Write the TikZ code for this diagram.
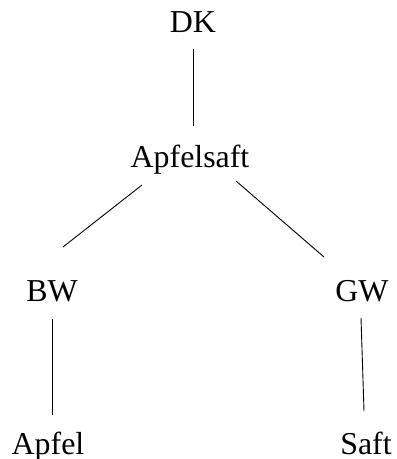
\documentclass[tikz,border=0pt]{standalone}
\usepackage{fontspec}
\setmainfont{Liberation Serif}
\usetikzlibrary{calc}
\begin{document}
\begin{tikzpicture}[x=1bp,y=1bp,
  lbl/.style={inner sep=0pt,anchor=base,font=\fontsize{32}{38}\selectfont},
  edge/.style={line width=0.9bp,black}]
\useasboundingbox (0,0) rectangle (396,459);
\node[lbl] (DK) at (193,426) {DK};
\node[lbl] (AS) at (190,291) {Apfelsaft};
\node[lbl] (BW) at (52,157) {BW};
\node[lbl] (GW) at (362,157) {GW};
\node[lbl] (AP) at (48,4) {Apfel};
\node[lbl] (SA) at (366,4) {Saft};
\draw[edge] ($(DK.base)+(0,-16)$) -- ($(AS.base)+(3,42)$);
\draw[edge] ($(AS.base)+(-48,-17)$) -- ($(BW.base)+(11,55)$);
\draw[edge] ($(AS.base)+(46,-13)$) -- ($(GW.base)+(-38,45)$);
\draw[edge] ($(BW.base)+(0,-17)$) -- ($(AP.base)+(4,40)$);
\draw[edge] ($(GW.base)+(-1,-16)$) -- ($(SA.base)+(-2,44)$);
\end{tikzpicture}
\end{document}
